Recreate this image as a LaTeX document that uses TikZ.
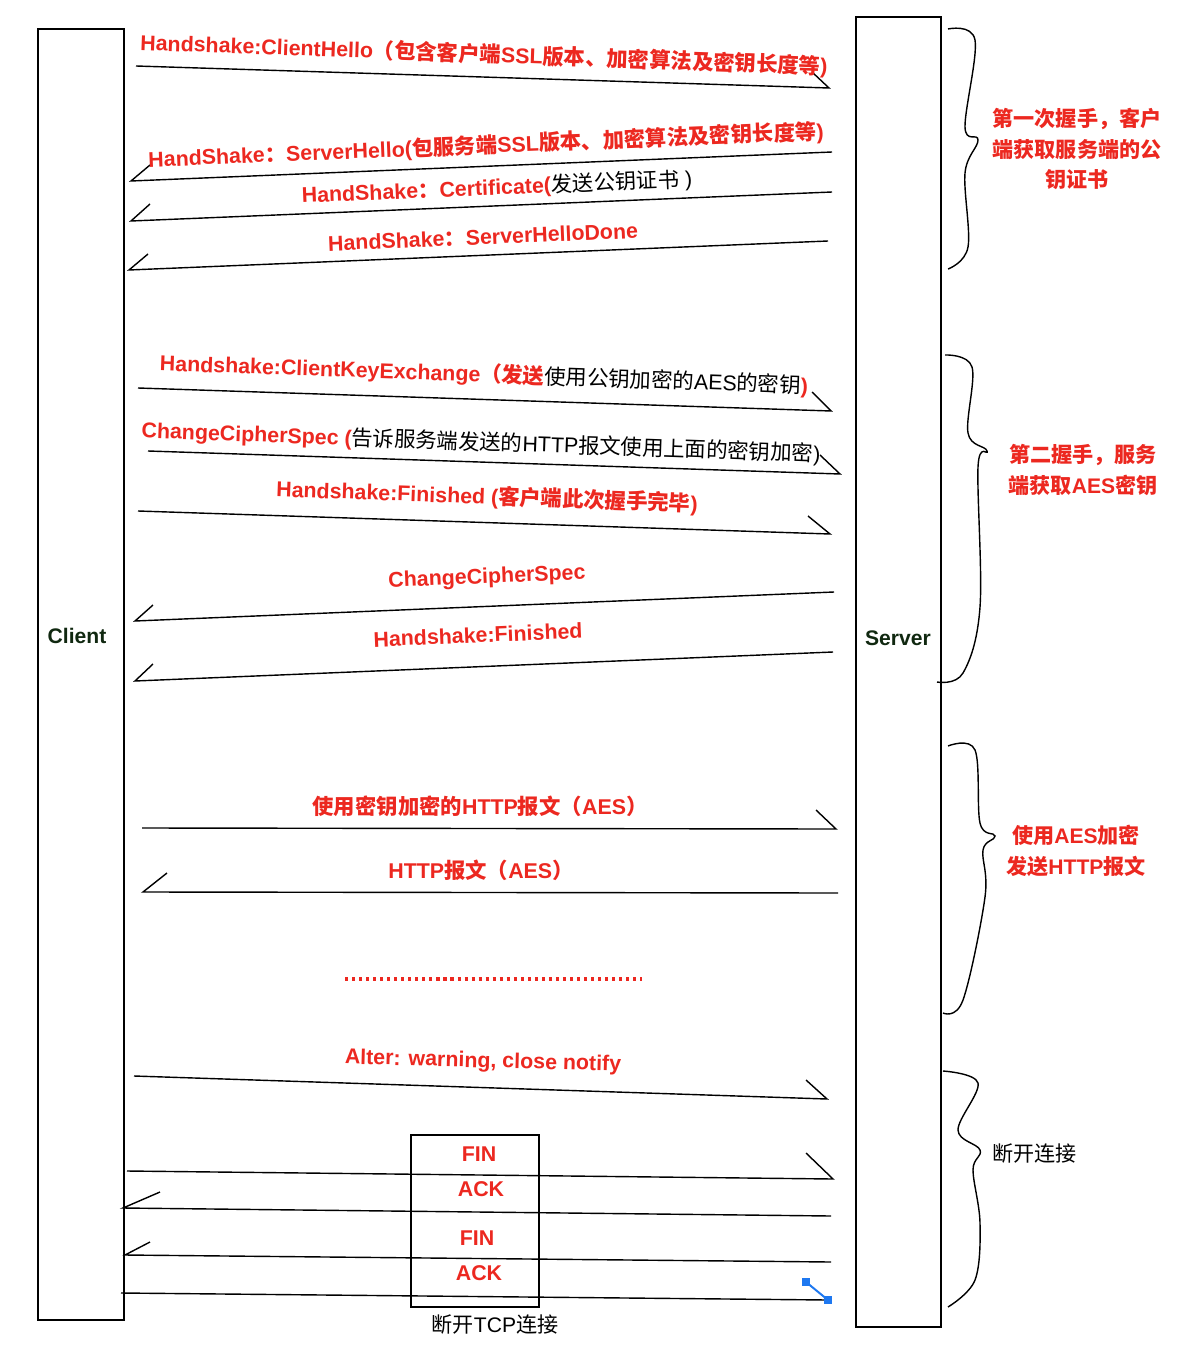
\documentclass[tikz,border=0pt]{standalone}
\usepackage{fontspec}
\setmainfont{Liberation Sans}
\newfontfamily\cjk{Noto Sans CJK SC}
\usepackage{xcolor}
\usepackage{tikz}
\usetikzlibrary{positioning}

\definecolor{msgred}{RGB}{236,40,32}
\definecolor{lifetxt}{RGB}{16,40,16}
\definecolor{selblue}{RGB}{30,120,240}
\newcommand{\zh}[1]{{\cjk #1}}
\newcommand{\blk}[1]{\textcolor{black}{\mdseries #1}}

\tikzset{
    lifeline/.style={draw, line width=1pt, inner sep=0pt},
    lifelbl/.style={text=lifetxt, font=\fontsize{15}{18}\selectfont\bfseries, inner sep=0pt},
    msg/.style={line width=1pt, line join=miter},
    msgtxt/.style={text=msgred, font=\fontsize{15.2}{18}\selectfont\bfseries, inner sep=0pt},
    sidetxt/.style={msgtxt, align=center, font=\fontsize{15}{22}\selectfont\bfseries},
    plaintxt/.style={text=black, font=\fontsize{15}{18}\selectfont, inner sep=0pt},
    brace/.style={line width=1pt}
}

\begin{document}
\begin{tikzpicture}[x=0.025cm, y=-0.025cm]
    \useasboundingbox (0,0) rectangle (1190,1352);

    % lifelines
    \node[lifeline, minimum width=2.15cm, minimum height=32.275cm] (client) at (81,674.5) {};
    \node[lifeline, minimum width=2.125cm, minimum height=32.75cm] (server) at (898.5,672) {};
    \node[lifelbl] (clientlbl) at (77,636) {Client};
    \node[lifelbl] (serverlbl) at (898,638) {Server};

    % first handshake
    \draw[msg] (136,66) -- (829,88) -- ++(-17,-16);
    \node[msgtxt, rotate=-2] (hello) at (484,55)
        {Handshake:ClientHello\zh{（包含客户端}SSL\zh{版本、加密算法及密钥长度等})};

    \draw[msg] (832,152) -- (131,181) -- ++(19,-16);
    \node[msgtxt, rotate=2.4] (srvhello) at (486,146)
        {HandShake\zh{：}ServerHello(\zh{包服务端}SSL\zh{版本、加密算法及密钥长度等})};

    \draw[msg] (832,192) -- (131,221) -- ++(19,-17);
    \node[msgtxt, rotate=2.4] (cert) at (497,188)
        {HandShake\zh{：}Certificate(\blk{\zh{发送公钥证书} )}};

    \draw[msg] (828,241) -- (129,270) -- ++(19,-16);
    \node[msgtxt, rotate=2.4] (hellodone) at (483,237)
        {HandShake\zh{：}ServerHelloDone};

    % second handshake
    \draw[msg] (138,388) -- (831,411) -- ++(-19,-19);
    \node[msgtxt, rotate=-2] (keyex) at (484,375)
        {Handshake:ClientKeyExchange\zh{（发送}\blk{\zh{使用公钥加密的}AES\zh{的密钥}})};

    \draw[msg] (148,451) -- (840,474) -- ++(-20,-19);
    \node[msgtxt, rotate=-2] (cipher) at (481,443)
        {ChangeCipherSpec (\blk{\zh{告诉服务端发送的}HTTP\zh{报文使用上面的密钥加密})}};

    \draw[msg] (138,511) -- (830,534) -- ++(-22,-18);
    \node[msgtxt, rotate=-2] (cfinish) at (487,497)
        {Handshake:Finished (\zh{客户端此次握手完毕})};

    \draw[msg] (834,592) -- (135,621) -- ++(18,-16);
    \node[msgtxt, rotate=2.4] (scipher) at (487,578) {ChangeCipherSpec};

    \draw[msg] (833,652) -- (135,681) -- ++(18,-17);
    \node[msgtxt, rotate=2.4] (sfinish) at (478,635) {Handshake:Finished};

    % encrypted data
    \draw[msg] (142,828) -- (836,829) -- ++(-20,-19);
    \node[msgtxt] (req) at (480,806) {\zh{使用密钥加密的}HTTP\zh{报文（}AES\zh{）}};

    \draw[msg] (838,893) -- (143,892) -- ++(24,-19);
    \node[msgtxt] (resp) at (481,870) {HTTP\zh{报文（}AES\zh{）}};

    \draw[msgred, line width=2.2pt, dash pattern=on 2.2pt off 2.8pt] (345,979) -- (642,979);

    % close
    \draw[msg] (134,1076) -- (827,1099) -- ++(-21,-19);
    \node[msgtxt, rotate=-1.5] (alert) at (483,1062) {Alter: warning, close notify};

    \node[lifeline, minimum width=3.2cm, minimum height=4.3cm] (tcpbox) at (475,1221) {};
    \node[plaintxt, below=5pt of tcpbox, xshift=0.5cm] (tcplbl) {\zh{断开}TCP\zh{连接}};

    \draw[msg] (127,1171) -- (833,1179) -- ++(-27,-26);
    \node[msgtxt] (fin1) at (479,1154) {FIN};
    \draw[msg] (831,1216) -- (123,1208) -- ++(37,-16);
    \node[msgtxt] (ack1) at (481,1189) {ACK};
    \draw[msg] (831,1262) -- (125,1255) -- ++(25,-13);
    \node[msgtxt] (fin2) at (477,1238) {FIN};
    \draw[msg] (121,1293) -- (828,1300);
    \draw[selblue, line width=1.4pt] (806,1282) -- (828,1300);
    \fill[selblue] (802,1278) rectangle (810,1286);
    \fill[selblue] (824,1296) rectangle (832,1304);
    \node[msgtxt] (ack2) at (479,1273) {ACK};

    % braces
    \draw[brace] plot[smooth, tension=0.6] coordinates
        {(948,29) (975,40) (965,127) (978,140) (965,173) (968,247) (948,269)};
    \node[sidetxt] (phase1) at (1077,149) {\zh{第一次握手，客户}\\\zh{端获取服务端的公}\\\zh{钥证书}};

    \draw[brace] plot[smooth, tension=0.6] coordinates
        {(945,355) (972,367) (968,433) (987,451) (978,467) (980,607) (963,673) (937,682)};
    \node[sidetxt] (phase2) at (1083,470) {\zh{第二握手，服务}\\\zh{端获取}AES\zh{密钥}};

    \draw[brace] plot[smooth, tension=0.6] coordinates
        {(948,746) (975,750) (980,823) (995,836) (983,850) (985,897) (963,1000) (943,1013)};
    \node[sidetxt] (phase3) at (1076,851) {\zh{使用}AES\zh{加密}\\\zh{发送}HTTP\zh{报文}};

    \draw[brace] plot[smooth, tension=0.6] coordinates
        {(943,1071) (978,1083) (958,1130) (980,1150) (973,1170) (980,1223) (975,1280) (948,1307)};
    \node[plaintxt, anchor=west] (phase4) at (992,1154) {\zh{断开连接}};

\end{tikzpicture}
\end{document}
